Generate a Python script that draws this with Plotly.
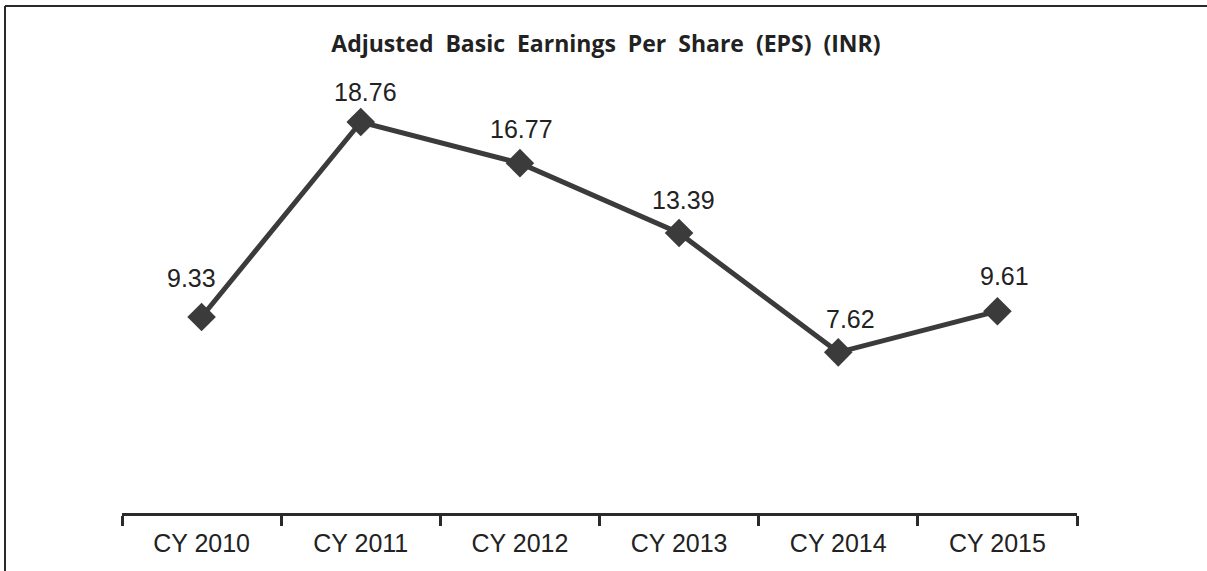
import plotly.graph_objects as go

categories = ["CY 2010", "CY 2011", "CY 2012", "CY 2013", "CY 2014", "CY 2015"]
eps_values = [9.33, 18.76, 16.77, 13.39, 7.62, 9.61]
value_labels = ["9.33", "18.76", "16.77", "13.39", "7.62", "9.61"]
# label placement offsets (px) relative to each point
label_dx = [-10, 5, 2, 4, 12, 7]
label_dy = [39, 30, 34, 33, 33, 35]

fig = go.Figure()
fig.add_trace(go.Scatter(
    x=categories, y=eps_values,
    mode="lines+markers",
    line=dict(color="#3b3b3b", width=5),
    marker=dict(symbol="diamond", size=22, color="#3b3b3b"),
    cliponaxis=False,
    showlegend=False,
))

for c, v, t, dx, dy in zip(categories, eps_values, value_labels, label_dx, label_dy):
    fig.add_annotation(
        x=c, y=v, text=t, showarrow=False,
        xanchor="center", yanchor="middle", xshift=dx, yshift=dy,
        font=dict(family="Liberation Sans, Arial", size=25, color="#222222"),
    )

L, R, T, B = 122, 130, 80, 58
W, H = 1207, 571
pw = W - L - R
ph = H - T - B

def px_x(px):
    return (px - L) / pw

def px_y(py):
    return (H - B - py) / ph

fig.update_layout(
    width=W, height=H,
    margin=dict(l=L, r=R, t=T, b=B),
    paper_bgcolor="white", plot_bgcolor="white",
    title=dict(
        text="<b>Adjusted  Basic  Earnings  Per  Share  (EPS)  (INR)</b>",
        x=0.502, xanchor="center", y=1 - 44 / H, yanchor="middle",
        font=dict(family="Open Sans, Lato, sans-serif", size=23, color="#222222"),
    ),
    xaxis=dict(
        type="category", range=[-0.5, 5.5],
        showgrid=False, zeroline=False,
        showline=True, linecolor="#2a2a2a", linewidth=3,
        ticks="outside", tickson="boundaries", ticklen=10, tickwidth=3, tickcolor="#2a2a2a",
        ticklabelstandoff=6,
        tickfont=dict(family="Liberation Sans, Arial", size=25, color="#222222"),
    ),
    yaxis=dict(
        range=[-0.15, 20.79], visible=False, showgrid=False, zeroline=False,
    ),
    shapes=[
        dict(type="line", xref="paper", yref="paper",
             x0=px_x(5), x1=px_x(W + 10), y0=px_y(6), y1=px_y(6),
             line=dict(color="#2a2a2a", width=2)),
        dict(type="line", xref="paper", yref="paper",
             x0=px_x(5), x1=px_x(5), y0=px_y(6), y1=px_y(H + 10),
             line=dict(color="#2a2a2a", width=2)),
    ],
)

fig.write_html(
    "out.html",
    config={"displayModeBar": False},
    post_script="document.body.style.margin='0';document.body.style.padding='0';",
)
